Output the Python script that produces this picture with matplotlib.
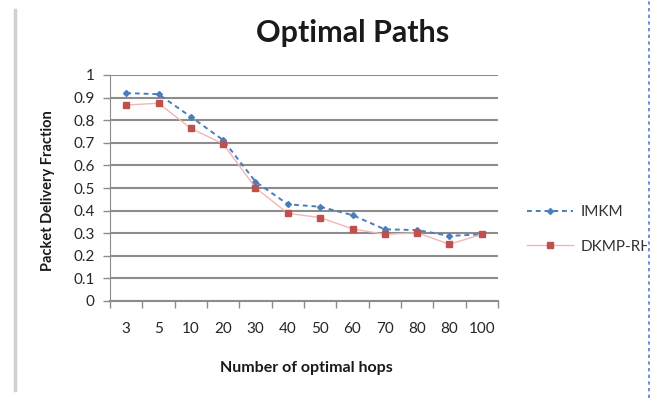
import matplotlib.pyplot as plt
from matplotlib.transforms import Bbox

hops = ["3", "5", "10", "20", "30", "40", "50", "60", "70", "80", "80", "100"]
imkm = [0.92, 0.915, 0.815, 0.712, 0.528, 0.428, 0.417, 0.38, 0.317, 0.314, 0.288, 0.295]
dkmp_rh = [0.867, 0.875, 0.764, 0.695, 0.501, 0.388, 0.369, 0.319, 0.295, 0.302, 0.251, 0.295]

W, H = 658, 398
plt.rcParams['font.family'] = ['Lato', 'DejaVu Sans']

fig = plt.figure(figsize=(W / 100, H / 100), dpi=100)
ax = fig.add_axes([110 / W, 1 - 301 / H, 388 / W, 226 / H])

x = list(range(len(hops)))
ax.plot(x, imkm, color="#4a7ebb", linestyle=(0, (2.5, 2)), linewidth=1.4,
        marker="D", markersize=3, label="IMKM")
ax.plot(x, dkmp_rh, color="#f2b6b5", linewidth=1.0,
        marker="s", markersize=5, markerfacecolor="#c0504d",
        markeredgecolor="#c0504d", label="DKMP-RH")

ax.set_xlim(-0.5, len(hops) - 0.5)
ax.set_ylim(0, 1)
ax.set_yticks([i / 10 for i in range(11)])
ax.set_yticklabels(["0", "0.1", "0.2", "0.3", "0.4", "0.5", "0.6", "0.7", "0.8", "0.9", "1"])
ax.set_xticks(x)
ax.set_xticklabels(hops)
ax.set_xticks([i - 0.5 for i in range(len(hops) + 1)], minor=True)
ax.tick_params(axis="x", which="major", length=0, pad=15, labelsize=11, colors="#262626")
ax.tick_params(axis="x", which="minor", length=5, color="#8c8c8c", width=1)
ax.tick_params(axis="y", length=5, color="#8c8c8c", width=1, pad=6, labelsize=11,
               colors="#262626")
ax.grid(axis="y", color="#8c8c8c", linewidth=1.5)
ax.set_axisbelow(True)
for side in ["top", "right"]:
    ax.spines[side].set_visible(False)
ax.spines["left"].set_color("#8c8c8c")
ax.spines["bottom"].set_color("#8c8c8c")
ax.spines["bottom"].set_linewidth(1.5)

fig.text(353 / W, 1 - 33 / H, "Optimal Paths", ha="center", va="center",
         fontsize=22, fontweight="bold", color="#1a1a1a")
fig.text(306 / W, 1 - 368 / H, "Number of optimal hops", ha="center", va="center",
         fontsize=11.5, fontweight="bold", color="#1a1a1a")
fig.text(48 / W, 1 - 191 / H, "Packet Delivery Fraction", ha="center", va="center",
         rotation=90, fontsize=10.5, fontweight="bold", color="#1a1a1a")

leg = fig.legend(loc="upper left", bbox_to_anchor=(521 / W, 1 - 199 / H),
                 frameon=False, fontsize=11, handlelength=3.0, handletextpad=0.5,
                 labelspacing=1.35, borderaxespad=0)
clip = Bbox([[0, 0], [647, H]])
for t in leg.get_texts():
    t.set_color("#333333")
    t.set_clip_box(clip)
    t.set_clip_on(True)

# page edges around the chart
fig.add_artist(plt.Line2D([15 / W, 15 / W], [1 - 390 / H, 1 - 10 / H],
                          color="#d0d0d0", linewidth=2.5))
fig.add_artist(plt.Line2D([649 / W, 649 / W], [0, 1], color="#4a86d8",
                          linewidth=1.2, linestyle=(0, (2, 2))))

fig.savefig("out.png", dpi=100)
